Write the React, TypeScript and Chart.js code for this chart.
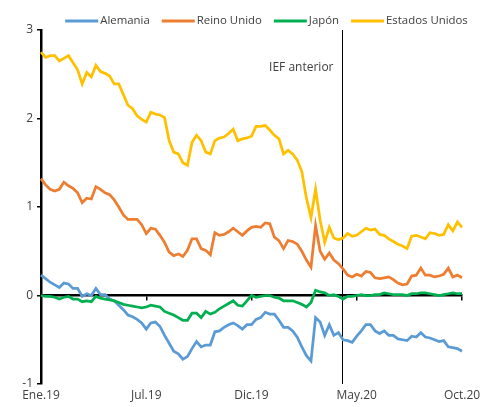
import React, { useEffect, useRef } from 'react';
import { Chart, registerables } from 'chart.js';

Chart.register(...registerables);

// Weekly observations, Jan.2019 – Oct.2020 (93 weeks)
const startDate = new Date(2019, 0, 25);
const categories: string[] = [];
for (let i = 0; i < 93; i++) {
  const d = new Date(startDate.getTime() + i * 7 * 86400000);
  categories.push(d.toISOString().slice(0, 10));
}

const tickLabels = ['Ene.19', 'Jul.19', 'Dic.19', 'May.20', 'Oct.20'];
const tickStep = 23;

const alemania = [
  0.23, 0.19, 0.15, 0.12, 0.09, 0.14, 0.13, 0.08, 0.08, -0.01,
  0.02, 0.0, 0.08, 0.01, 0.01, -0.04, -0.06, -0.11, -0.16, -0.22,
  -0.24, -0.27, -0.31, -0.38, -0.31, -0.3, -0.35, -0.45, -0.54, -0.63,
  -0.66, -0.72, -0.69, -0.6, -0.52, -0.58, -0.56, -0.56, -0.41, -0.4,
  -0.36, -0.33, -0.31, -0.34, -0.38, -0.33, -0.33, -0.27, -0.25, -0.19,
  -0.21, -0.21, -0.28, -0.36, -0.36, -0.4, -0.47, -0.58, -0.68, -0.74,
  -0.25, -0.3, -0.45, -0.33, -0.45, -0.42, -0.5, -0.51, -0.53, -0.46,
  -0.4, -0.33, -0.33, -0.4, -0.43, -0.4, -0.45, -0.45, -0.49, -0.5,
  -0.51, -0.46, -0.47, -0.42, -0.47, -0.48, -0.5, -0.52, -0.51, -0.58,
  -0.59, -0.6, -0.63,
];

const reinoUnido = [
  1.32, 1.25, 1.2, 1.18, 1.2, 1.28, 1.24, 1.21, 1.16, 1.05,
  1.1, 1.09, 1.23, 1.2, 1.16, 1.14, 1.08, 1.0, 0.91, 0.86,
  0.86, 0.86, 0.8, 0.7, 0.76, 0.75, 0.68, 0.6, 0.49, 0.45,
  0.47, 0.44, 0.51, 0.64, 0.64, 0.53, 0.51, 0.46, 0.71, 0.68,
  0.69, 0.72, 0.76, 0.72, 0.68, 0.73, 0.77, 0.78, 0.77, 0.82,
  0.81, 0.66, 0.62, 0.53, 0.62, 0.61, 0.58, 0.5, 0.4, 0.32,
  0.79, 0.5, 0.41, 0.48, 0.4, 0.36, 0.3, 0.23, 0.21, 0.24,
  0.22, 0.27, 0.26, 0.2, 0.19, 0.2, 0.21, 0.18, 0.14, 0.12,
  0.13, 0.22, 0.23, 0.31, 0.23, 0.23, 0.21, 0.22, 0.24, 0.31,
  0.21, 0.23, 0.2,
];

const japon = [
  0.0, -0.01, -0.01, -0.02, -0.04, -0.02, -0.01, -0.04, -0.04, -0.07,
  -0.06, -0.07, -0.01, -0.03, -0.04, -0.05, -0.06, -0.08, -0.1, -0.11,
  -0.12, -0.13, -0.14, -0.13, -0.11, -0.12, -0.13, -0.18, -0.2, -0.22,
  -0.25, -0.28, -0.28, -0.2, -0.2, -0.25, -0.18, -0.21, -0.19, -0.15,
  -0.12, -0.09, -0.06, -0.11, -0.12, -0.06, 0.0, -0.02, -0.01, 0.0,
  0.0, -0.02, -0.03, -0.06, -0.06, -0.06, -0.08, -0.1, -0.13, -0.08,
  0.06, 0.04, 0.03, 0.0, 0.01, -0.01, -0.04, -0.01, -0.01, 0.0,
  0.01, 0.0, 0.0, 0.01, 0.01, 0.03, 0.02, 0.01, 0.01, 0.01,
  0.0, 0.02, 0.02, 0.03, 0.03, 0.02, 0.01, 0.0, 0.01, 0.02,
  0.03, 0.02, 0.02,
];

const estadosUnidos = [
  2.75, 2.69, 2.71, 2.71, 2.65, 2.68, 2.71, 2.63, 2.55, 2.39,
  2.52, 2.47, 2.6, 2.53, 2.51, 2.48, 2.39, 2.39, 2.27, 2.15,
  2.11, 2.03, 1.99, 1.96, 2.07, 2.05, 2.04, 2.01, 1.75, 1.62,
  1.6, 1.5, 1.47, 1.73, 1.81, 1.75, 1.62, 1.6, 1.75, 1.78,
  1.79, 1.83, 1.88, 1.75, 1.77, 1.78, 1.8, 1.91, 1.91, 1.92,
  1.87, 1.81, 1.77, 1.6, 1.64, 1.6, 1.53, 1.4, 1.1, 0.88,
  1.2, 0.85, 0.6, 0.77, 0.65, 0.63, 0.65, 0.7, 0.67, 0.68,
  0.72, 0.76, 0.74, 0.75, 0.69, 0.68, 0.64, 0.61, 0.58, 0.56,
  0.53, 0.67, 0.68, 0.66, 0.64, 0.71, 0.7, 0.68, 0.69, 0.8,
  0.73, 0.83, 0.77,
];

const seriesNames = ['Alemania', 'Reino Unido', 'Japón', 'Estados Unidos'];
const seriesColors = ['#5B9BD5', '#ED7D31', '#00B050', '#FFC000'];
const seriesValues = [alemania, reinoUnido, japon, estadosUnidos];

const iefLabel = 'IEF anterior';
const iefPosition = 65.8; // in category-index units

const FONT = "'Open Sans', sans-serif";
const TEXT = '#404040';

export default function App() {
  const ref = useRef<HTMLCanvasElement>(null);

  useEffect(() => {
    const canvas = ref.current;
    if (!canvas) return;

    const overlay = {
      id: 'overlay',
      beforeDatasetsDraw(chart: any) {
        const { ctx, chartArea, scales } = chart;
        const x = Math.round(scales.x.getPixelForValue(iefPosition)) + 0.5;
        ctx.save();
        ctx.strokeStyle = '#000';
        ctx.lineWidth = 1;
        ctx.beginPath();
        ctx.moveTo(x, chartArea.top);
        ctx.lineTo(x, chartArea.bottom);
        ctx.stroke();
        ctx.fillStyle = TEXT;
        ctx.font = `12px ${FONT}`;
        ctx.textAlign = 'right';
        ctx.textBaseline = 'middle';
        ctx.fillText(iefLabel, x - 9, chartArea.top + 38);
        ctx.restore();
      },
      afterDraw(chart: any) {
        const { ctx } = chart;
        ctx.save();
        ctx.font = `11.4px ${FONT}`;
        ctx.textBaseline = 'middle';
        ctx.textAlign = 'left';
        const lineW = 33;
        const gap = 2;
        const itemGap = 12;
        const widths = chart.data.datasets.map((d: any) => ctx.measureText(d.label).width);
        const total = widths.reduce((a: number, w: number) => a + lineW + gap + w, 0) + itemGap * (widths.length - 1);
        let x = 266.5 - total / 2;
        const y = 21;
        chart.data.datasets.forEach((d: any, i: number) => {
          ctx.fillStyle = d.borderColor;
          ctx.fillRect(x, y - 1.5, lineW, 3);
          ctx.fillStyle = TEXT;
          ctx.fillText(d.label, x + lineW + gap, y);
          x += lineW + gap + widths[i] + itemGap;
        });
        ctx.restore();
      },
    };

    const chart = new Chart(canvas, {
      type: 'line',
      data: {
        labels: categories,
        datasets: seriesValues.map((vals, i) => ({
          label: seriesNames[i],
          data: vals,
          borderColor: seriesColors[i],
          backgroundColor: seriesColors[i],
          borderWidth: 2.75,
          pointRadius: 0,
          tension: 0,
          xAxisID: 'x',
          yAxisID: 'y',
          order: seriesNames.length - i,
        })),
      },
      options: {
        responsive: false,
        animation: false,
        layout: { padding: { top: 30, right: 18, left: 0, bottom: 0 } },
        plugins: {
          legend: { display: false },
          tooltip: { enabled: false },
          title: { display: false },
        },
        scales: {
          x: {
            type: 'category',
            offset: false,
            grid: { display: false, drawTicks: false },
            border: { display: false },
            ticks: {
              autoSkip: false,
              maxRotation: 0,
              minRotation: 0,
              padding: 4,
              color: TEXT,
              font: { family: FONT, size: 12 },
              callback: (_v: any, i: number) => (i % tickStep === 0 ? tickLabels[i / tickStep] : ''),
            },
            afterFit: (s: any) => {
              s.height = 23;
              s.paddingLeft = 0;
              s.paddingRight = 0;
            },
          },
          x0: {
            type: 'category',
            axis: 'x',
            position: { y: 0 },
            offset: false,
            ticks: { display: false, autoSkip: false },
            grid: {
              drawOnChartArea: false,
              drawTicks: true,
              tickLength: 4,
              lineWidth: 1.5,
              color: (c: any) => (c.index % tickStep === 0 ? '#000' : 'rgba(0,0,0,0)'),
            },
            border: { color: '#000', width: 2.5 },
          },
          y: {
            min: -1,
            max: 3,
            ticks: {
              stepSize: 1,
              padding: 4,
              color: TEXT,
              font: { family: FONT, size: 12 },
            },
            grid: {
              drawOnChartArea: false,
              drawTicks: true,
              tickLength: 4,
              color: '#000',
              lineWidth: 1.5,
            },
            border: { color: '#000', width: 2.5 },
            afterFit: (s: any) => {
              s.width = 41;
              s.paddingTop = 0;
              s.paddingBottom = 0;
            },
          },
        },
      } as any,
      plugins: [overlay],
    });

    return () => chart.destroy();
  }, []);

  return (
    <div style={{ position: 'absolute', left: 0, top: 0, width: 480, height: 407 }}>
      <canvas ref={ref} width={480} height={407} style={{ display: 'block' }} />
    </div>
  );
}
